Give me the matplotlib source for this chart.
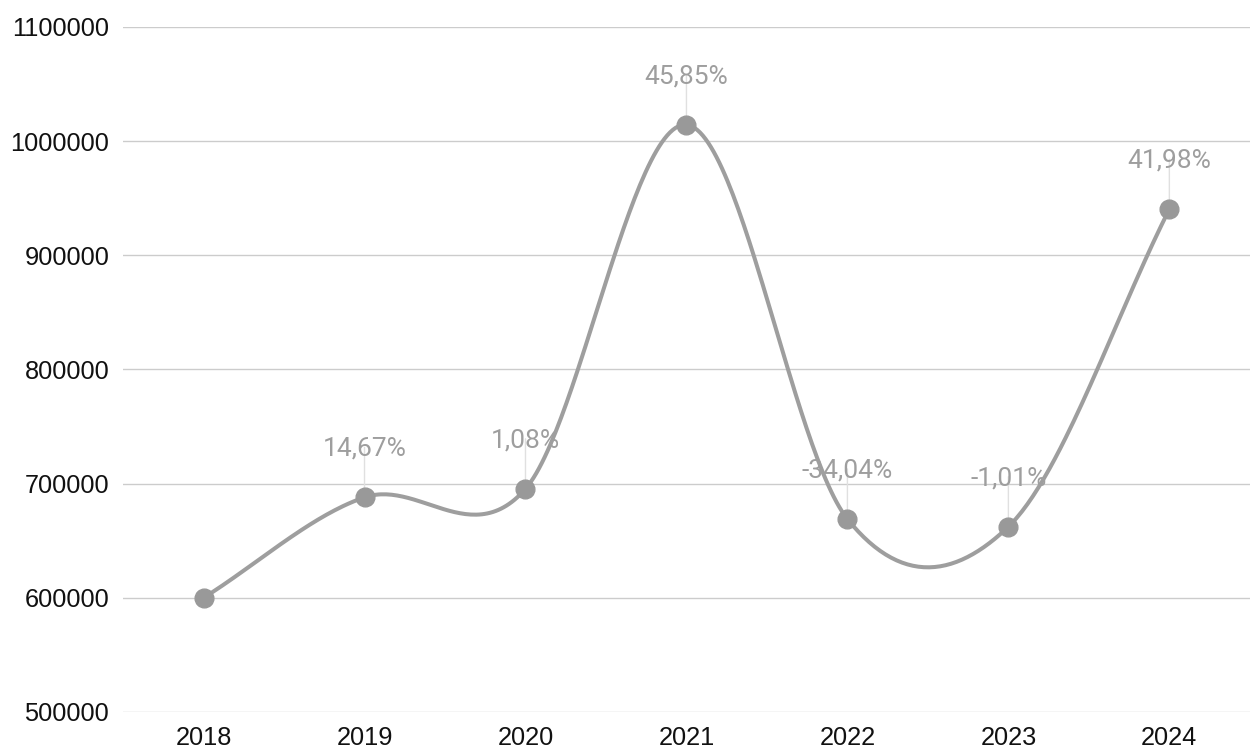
import numpy as np
import matplotlib.pyplot as plt

years = [2018, 2019, 2020, 2021, 2022, 2023, 2024]
values = [600000, 688020, 695450, 1014313, 669050, 662293, 940323]
labels = ["", "14,67%", "1,08%", "45,85%", "-34,04%", "-1,01%", "41,98%"]
yticks = [500000, 600000, 700000, 800000, 900000, 1000000, 1100000]

plt.rcParams['font.family'] = ['Roboto', 'DejaVu Sans']

# ── smooth curve (Catmull-Rom style cubic through the points) ──
x = np.arange(len(years), dtype=float)
y = np.array(values, dtype=float)
m = np.zeros_like(y)
m[1:-1] = (y[2:] - y[:-2]) / 2
m[0] = y[1] - y[0]
m[-1] = y[-1] - y[-2]
xs, ys = [], []
for i in range(len(x) - 1):
    t = np.linspace(0, 1, 60)
    h00 = 2 * t**3 - 3 * t**2 + 1
    h10 = t**3 - 2 * t**2 + t
    h01 = -2 * t**3 + 3 * t**2
    h11 = t**3 - t**2
    xs.append(x[i] + t)
    ys.append(h00 * y[i] + h10 * m[i] + h01 * y[i + 1] + h11 * m[i + 1])
xs = np.concatenate(xs)
ys = np.concatenate(ys)

fig = plt.figure(figsize=(12.57, 7.49), dpi=100)
ax = fig.add_axes([0.0979, 0.0494, 0.8964, 0.9146])

ax.plot(xs, ys, color='#9e9e9e', lw=2.9, solid_capstyle='round', zorder=3)
ax.plot(x, y, 'o', color='#999999', ms=13.5, zorder=4)

for xi, yi, lab in zip(x, y, labels):
    if not lab:
        continue
    ax.annotate('', xy=(xi, yi), xytext=(0, 36), textcoords='offset points',
                arrowprops=dict(arrowstyle='-', color='#e0e0e0', lw=1,
                                shrinkA=0, shrinkB=6), zorder=2)
    ax.annotate(lab, xy=(xi, yi), xytext=(0, 35), textcoords='offset points',
                ha='center', va='center', fontsize=19, color='#9e9e9e', zorder=5)

ax.set_xlim(-0.5, len(years) - 0.5)
ax.set_ylim(500000, 1100000)
ax.set_yticks(yticks)
ax.set_yticklabels([str(v) for v in yticks])
ax.set_xticks(x)
ax.set_xticklabels([str(v) for v in years])
ax.grid(axis='y', color='#cccccc', lw=1)
ax.set_axisbelow(True)
for s in ax.spines.values():
    s.set_visible(False)
ax.tick_params(axis='both', length=0, labelsize=18.3, colors='#111111')
for lbl in ax.get_xticklabels() + ax.get_yticklabels():
    lbl.set_fontfamily(['Liberation Sans', 'DejaVu Sans'])
ax.tick_params(axis='y', pad=10)
ax.tick_params(axis='x', pad=10)

plt.savefig('out.png', dpi=100)
plt.close()
